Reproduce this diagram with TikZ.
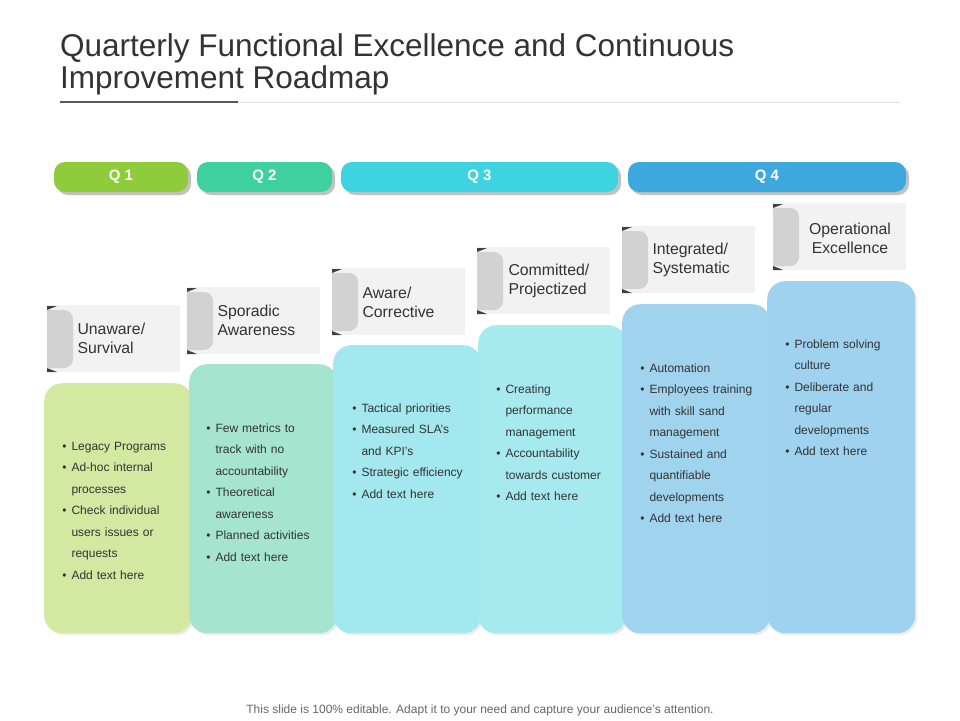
\documentclass[tikz,border=0pt]{standalone}
\usepackage{fontspec}
\setmainfont{Liberation Sans}
\usepackage{enumitem}
\usetikzlibrary{positioning,shadows}

\definecolor{qone}{HTML}{8FCC3C}
\definecolor{qtwo}{HTML}{3FD0A0}
\definecolor{qthree}{HTML}{3ED3E1}
\definecolor{qfour}{HTML}{3DA8DE}
\definecolor{cone}{HTML}{D3E9A1}
\definecolor{ctwo}{HTML}{A5E5CF}
\definecolor{cthree}{HTML}{A3E7EF}
\definecolor{cfour}{HTML}{A6EAEF}
\definecolor{cfive}{HTML}{A0D4EE}
\definecolor{csix}{HTML}{9FD2EE}
\definecolor{txt}{HTML}{333333}

% gray tab on the left of a label box, #1,#2 = north west corner
\newcommand{\labeltab}[2]{
  \fill[gray!35] (#1,#2+5) {[rounded corners=9pt] -- (#1+26,#2+5) -- (#1+26,#2+63)} -- (#1,#2+63) -- cycle;
  \fill[black!75] (#1,#2+5) -- (#1+10,#2+1) -- (#1,#2+1) -- cycle;
  \fill[black!75] (#1,#2+63) -- (#1+10,#2+67) -- (#1,#2+67) -- cycle;
}

\begin{document}
\begin{tikzpicture}[x=1pt, y=-1pt,
    qbar/.style={rounded corners=11pt, minimum height=30pt, inner sep=0pt, text=white,
      font=\fontsize{15}{15}\selectfont\bfseries, drop shadow={shadow xshift=3pt, shadow yshift=-3pt, fill=gray!60, opacity=0.8}},
    card/.style={rounded corners=18pt, minimum width=148pt, inner sep=0pt, anchor=north west,
      drop shadow={shadow xshift=2pt, shadow yshift=-2pt, fill=gray!30, opacity=0.5}},
    labelbox/.style={fill=gray!10, minimum width=133pt, minimum height=67pt, inner sep=0pt, anchor=north west},
    labeltext/.style={anchor=west, align=left, text=txt, font=\fontsize{15.8}{19}\selectfont},
    points/.style={anchor=north west, text width=128pt, text=txt, font=\fontsize{12}{21.5}\selectfont}
]
\useasboundingbox (0,0) rectangle (960,720);

% Title
\node[anchor=north west, align=left, text=txt, font=\fontsize{31.5}{32}\selectfont, inner sep=0pt] (title) at (60,33)
  {Quarterly Functional Excellence and Continuous\\Improvement Roadmap};
\draw[gray!25, line width=1pt] (60,102) -- (900,102);
\draw[gray!70!black, line width=2pt] (60,102) -- (238,102);

% Quarter bars
\node[qbar, fill=qone, minimum width=134pt] (q1) at (121,177) {Q 1};
\node[qbar, fill=qtwo, minimum width=135pt] (q2) at (264.5,177) {Q 2};
\node[qbar, fill=qthree, minimum width=277pt] (q3) at (479.5,177) {Q 3};
\node[qbar, fill=qfour, minimum width=278pt] (q4) at (767,177) {Q 4};

% Cards
\node[card, fill=cone, minimum height=250pt] (c1) at (44,383) {};
\node[card, fill=ctwo, minimum height=269pt] (c2) at (189,364) {};
\node[card, fill=cthree, minimum height=288pt] (c3) at (333,345) {};
\node[card, fill=cfour, minimum height=308pt] (c4) at (478,325) {};
\node[card, fill=cfive, minimum height=329pt] (c5) at (622,304) {};
\node[card, fill=csix, minimum height=352pt] (c6) at (767,281) {};

% Label boxes
\node[labelbox] (l1) at (47,305) {};
\node[labelbox] (l2) at (187,287) {};
\node[labelbox] (l3) at (332,268) {};
\node[labelbox] (l4) at (477,247) {};
\node[labelbox] (l5) at (622,226) {};
\node[labelbox] (l6) at (773,203) {};
\labeltab{47}{305}
\labeltab{187}{287}
\labeltab{332}{268}
\labeltab{477}{247}
\labeltab{622}{226}
\labeltab{773}{203}

\node[labeltext] at (74,338) {Unaware/\\Survival};
\node[labeltext] at (214,320) {Sporadic\\Awareness};
\node[labeltext] at (359,302) {Aware/\\Corrective};
\node[labeltext] at (505,281) {Committed/\\Projectized};
\node[labeltext] at (649,260) {Integrated/\\Systematic};
\node[labeltext, align=center, anchor=center] at (850,238) {Operational\\Excellence};

% Bullet points
\setlist[itemize]{leftmargin=11pt, label=\textbullet, itemsep=0pt, topsep=0pt, parsep=0pt, partopsep=0pt}
\node[points] (p1) at (57,425) {\begin{itemize}
  \item Legacy Programs
  \item Ad-hoc internal\\processes
  \item Check individual\\users issues or\\requests
  \item Add text here
\end{itemize}};
\node[points] (p2) at (201,407) {\begin{itemize}
  \item Few metrics to\\track with no\\accountability
  \item Theoretical\\awareness
  \item Planned activities
  \item Add text here
\end{itemize}};
\node[points] (p3) at (347,387) {\begin{itemize}
  \item Tactical priorities
  \item Measured SLA’s\\and KPI’s
  \item Strategic efficiency
  \item Add text here
\end{itemize}};
\node[points] (p4) at (491,368) {\begin{itemize}
  \item Creating\\performance\\management
  \item Accountability\\towards customer
  \item Add text here
\end{itemize}};
\node[points] (p5) at (635,347) {\begin{itemize}
  \item Automation
  \item Employees training\\with skill sand\\management
  \item Sustained and\\quantifiable\\developments
  \item Add text here
\end{itemize}};
\node[points] (p6) at (780,323) {\begin{itemize}
  \item Problem solving\\culture
  \item Deliberate and\\regular\\developments
  \item Add text here
\end{itemize}};

% Footer
\node[text=gray!80!black, font=\fontsize{12}{14}\selectfont] (foot) at (480,710)
  {This slide is 100\% editable. Adapt it to your need and capture your audience’s attention.};
\end{tikzpicture}
\end{document}
